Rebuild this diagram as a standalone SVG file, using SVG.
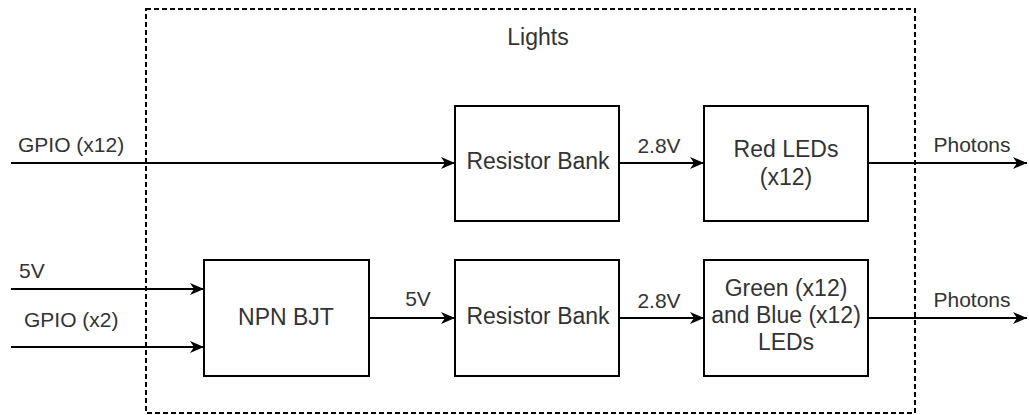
<svg xmlns="http://www.w3.org/2000/svg" width="1029" height="415" viewBox="0 0 1029 415">
  <style>
    .box { fill: #ffffff; stroke: #000000; stroke-width: 2; }
    .edge { fill: none; stroke: #000000; stroke-width: 2; }
    .t { font-family: "Liberation Sans", Arial, sans-serif; font-size: 21px; fill: #333333; }
    .n { font-size: 23px; }
    .c { text-anchor: middle; }
  </style>
  <defs>
    <marker id="arr" markerUnits="userSpaceOnUse" markerWidth="15" markerHeight="13" refX="14" refY="6.5" orient="auto">
      <path d="M0,0.5 L14,6.5 L0,12.5 L4,6.5 Z" fill="#000000"/>
    </marker>
  </defs>
  <rect width="1029" height="415" fill="#ffffff"/>
  <g id="container-lights">
    <rect x="146" y="9" width="769" height="404" fill="none" stroke="#000000" stroke-width="2" stroke-dasharray="5 3"/>
    <text class="t n c" x="538" y="45">Lights</text>
  </g>
  <g id="connectors">
    <line class="edge" x1="11" y1="163" x2="455" y2="163" marker-end="url(#arr)"/>
    <text class="t" x="18" y="152">GPIO (x12)</text>
    <line class="edge" x1="619" y1="163" x2="704" y2="163" marker-end="url(#arr)"/>
    <text class="t c" x="659" y="153">2.8V</text>
    <line class="edge" x1="868" y1="163" x2="1027" y2="163" marker-end="url(#arr)"/>
    <text class="t c" x="972" y="152">Photons</text>
    <line class="edge" x1="11" y1="289" x2="204" y2="289" marker-end="url(#arr)"/>
    <text class="t" x="19" y="278">5V</text>
    <line class="edge" x1="11" y1="347" x2="204" y2="347" marker-end="url(#arr)"/>
    <text class="t" x="24" y="327">GPIO (x2)</text>
    <line class="edge" x1="369" y1="318" x2="455" y2="318" marker-end="url(#arr)"/>
    <text class="t c" x="418" y="306">5V</text>
    <line class="edge" x1="619" y1="318" x2="704" y2="318" marker-end="url(#arr)"/>
    <text class="t c" x="659" y="308">2.8V</text>
    <line class="edge" x1="868" y1="318" x2="1027" y2="318" stroke="#555555" marker-end="url(#arr)"/>
    <text class="t c" x="972" y="307">Photons</text>
  </g>
  <g id="node-resistor-bank-top">
    <rect class="box" x="455" y="106" width="164" height="115"/>
    <text class="t n c" x="538" y="169">Resistor Bank</text>
  </g>
  <g id="node-red-leds">
    <rect class="box" x="704" y="106" width="164" height="115"/>
    <text class="t n c" x="786" y="157">Red LEDs</text>
    <text class="t n c" x="786" y="185">(x12)</text>
  </g>
  <g id="node-npn-bjt">
    <rect class="box" x="204" y="260" width="165" height="116"/>
    <text class="t n c" x="286" y="325">NPN BJT</text>
  </g>
  <g id="node-resistor-bank-bottom">
    <rect class="box" x="455" y="260" width="164" height="116"/>
    <text class="t n c" x="538" y="324">Resistor Bank</text>
  </g>
  <g id="node-green-blue-leds">
    <rect class="box" x="704" y="260" width="164" height="116"/>
    <text class="t n c" x="786" y="296">Green (x12)</text>
    <text class="t n c" x="786" y="323">and Blue (x12)</text>
    <text class="t n c" x="786" y="350">LEDs</text>
  </g>
</svg>
